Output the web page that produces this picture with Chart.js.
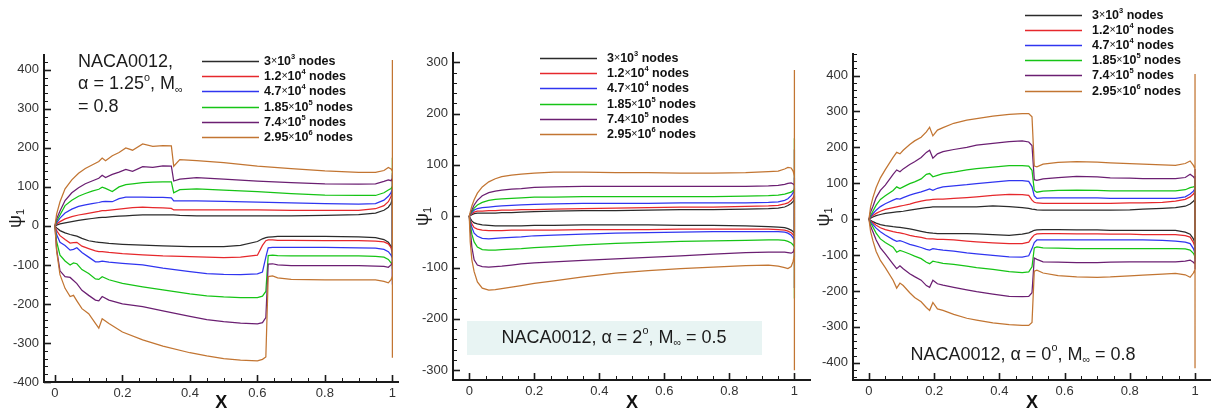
<!DOCTYPE html>
<html>
<head>
<meta charset="utf-8">
<title>Adjoint ψ1 along NACA0012 surface</title>
<script src="https://cdn.jsdelivr.net/npm/chart.js@4.4.1/dist/chart.umd.min.js"></script>
<style>
  html, body { margin: 0; padding: 0; background: #fff; }
  #wrap { position: relative; width: 1211px; height: 414px; overflow: hidden; }
  canvas { position: absolute; top: 0; }
</style>
</head>
<body>
<div id="wrap">
  <canvas id="c1" width="400" height="414" style="left:0px;width:400px;height:414px"></canvas>
  <canvas id="c2" width="411" height="414" style="left:400px;width:411px;height:414px"></canvas>
  <canvas id="c3" width="401" height="414" style="left:810px;width:401px;height:414px"></canvas>
</div>
<script>
// ---------- mesh sizes (legend) ----------
const NODE_MANTISSA = ['3', '1.2', '4.7', '1.85', '7.4', '2.95'];
const NODE_EXPONENT = ['3', '4', '4', '5', '5', '6'];

// ---------- axis tick values ----------
const X_TICKS = [0, 0.2, 0.4, 0.6, 0.8, 1];
const Y_TICKS_400 = [-400, -300, -200, -100, 0, 100, 200, 300, 400];
const Y_TICKS_300 = [-300, -200, -100, 0, 100, 200, 300];

// ---------- case 1: alpha = 1.25 deg, M = 0.8 ----------
const p1UpperX = [0, 0.005, 0.015, 0.03, 0.05, 0.07, 0.09, 0.11, 0.13, 0.14, 0.15, 0.17, 0.19, 0.21, 0.23, 0.26, 0.29, 0.32, 0.345, 0.352, 0.37, 0.42, 0.5, 0.6, 0.7, 0.8, 0.9, 0.95, 0.975, 0.988, 0.996, 1];
const p1UpperPsi = [
  [0, 2, 5, 8, 11, 14, 17, 19, 21, 22, 22, 24, 25, 26, 27, 28, 28, 28, 28, 28, 27, 26, 26, 26, 26, 27, 29, 33, 40, 48, 58, 70],
  [0, 5, 11, 18, 24, 28, 31, 34, 37, 39, 39, 41, 43, 45, 47, 48, 47, 46, 45, 41, 41, 41, 41, 41, 40, 40, 40, 44, 52, 62, 75, 90],
  [0, 8, 20, 33, 43, 50, 54, 57, 60, 62, 63, 62, 70, 74, 74, 74, 73, 73, 72, 64, 64, 64, 63, 61, 59, 57, 56, 57, 66, 76, 85, 95],
  [0, 12, 28, 52, 66, 76, 83, 89, 94, 99, 96, 88, 100, 106, 108, 111, 112, 113, 113, 85, 93, 95, 92, 88, 83, 79, 78, 78, 85, 92, 96, 102],
  [0, 18, 38, 65, 85, 98, 108, 115, 122, 130, 124, 132, 138, 145, 140, 152, 150, 154, 153, 115, 120, 124, 120, 115, 111, 108, 107, 108, 114, 118, 116, 122],
  [0, 30, 62, 95, 118, 135, 147, 156, 165, 174, 167, 180, 188, 200, 194, 210, 204, 206, 205, 153, 170, 167, 162, 153, 147, 141, 137, 137, 142, 150, 146, 140]
];
const p1LowerX = [0, 0.005, 0.015, 0.03, 0.045, 0.055, 0.065, 0.08, 0.1, 0.12, 0.13, 0.14, 0.16, 0.2, 0.26, 0.32, 0.4, 0.45, 0.5, 0.55, 0.6, 0.615, 0.625, 0.632, 0.645, 0.66, 0.7, 0.8, 0.9, 0.95, 0.975, 0.988, 0.996, 1];
const p1LowerPsi = [
  [0, -5, -12, -18, -22, -24, -26, -32, -38, -41, -42, -43, -45, -47, -49, -51, -53, -53, -53, -50, -40, -33, -30, -29, -28, -27, -27, -27, -28, -30, -35, -42, -52, -65],
  [0, -12, -25, -35, -44, -43, -42, -52, -58, -64, -66, -66, -68, -71, -74, -77, -79, -80, -81, -80, -75, -50, -38, -36, -36, -37, -37, -38, -38, -39, -41, -46, -56, -70],
  [0, -22, -42, -50, -62, -60, -56, -68, -80, -92, -92, -90, -93, -96, -100, -108, -117, -122, -124, -125, -123, -118, -80, -56, -55, -55, -55, -55, -56, -57, -60, -66, -75, -82],
  [0, -40, -75, -90, -100, -95, -97, -112, -122, -136, -137, -130, -138, -147, -156, -164, -174, -179, -182, -184, -184, -180, -168, -76, -75, -76, -77, -77, -77, -78, -80, -86, -95, -100],
  [0, -60, -115, -130, -132, -140, -148, -165, -178, -190, -192, -181, -190, -200, -207, -218, -232, -240, -245, -249, -251, -248, -235, -98, -97, -100, -102, -102, -102, -103, -104, -106, -100, -92],
  [0, -65, -125, -160, -181, -178, -192, -212, -225, -250, -262, -238, -250, -272, -292, -308, -325, -333, -340, -344, -346, -342, -336, -130, -128, -133, -137, -138, -138, -138, -142, -146, -138, -128]
];
// trailing-edge excursion [top, bottom] at x = 1
const p1TrailingEdge = [[60, -80], [95, -75], [130, -150], [175, -110], [135, -130], [425, -338]];

// ---------- case 2: alpha = 2 deg, M = 0.5 ----------
const p2X = [0, 0.003, 0.008, 0.015, 0.025, 0.04, 0.06, 0.08, 0.1, 0.13, 0.16, 0.2, 0.26, 0.35, 0.45, 0.55, 0.65, 0.75, 0.85, 0.92, 0.95, 0.97, 0.98, 0.99, 0.996, 1];
const p2UpperPsi = [
  [0, 1, 3, 5, 6, 6, 6, 6, 7, 7, 8, 9, 10, 11, 11, 12, 13, 13, 14, 15, 16, 18, 21, 25, 29, 33],
  [0, 2, 5, 8, 10, 10, 11, 11, 12, 12, 13, 13, 14, 15, 16, 17, 18, 18, 19, 20, 21, 24, 26, 31, 36, 42],
  [0, 3, 7, 12, 15, 17, 18, 19, 20, 21, 22, 23, 24, 25, 25, 25, 26, 26, 26, 27, 28, 31, 34, 40, 46, 52],
  [0, 4, 9, 16, 22, 27, 31, 33, 34, 35, 36, 37, 37, 38, 38, 38, 38, 38, 39, 40, 41, 43, 45, 47, 50, 52],
  [0, 5, 12, 22, 31, 40, 46, 49, 51, 53, 54, 56, 57, 58, 58, 58, 58, 58, 58, 59, 60, 62, 64, 65, 63, 60],
  [0, 8, 20, 32, 45, 57, 67, 73, 77, 80, 82, 84, 86, 86, 85, 85, 84, 84, 85, 87, 88, 92, 95, 94, 88, 78]
];
const p2LowerPsi = [
  [0, -4, -9, -13, -15, -17, -18, -19, -19, -19, -19, -18, -18, -17, -17, -17, -18, -18, -19, -20, -21, -22, -24, -27, -30, -34],
  [0, -7, -15, -22, -25, -27, -28, -28, -28, -27, -27, -27, -27, -26, -26, -26, -25, -25, -25, -25, -26, -27, -29, -32, -36, -40],
  [0, -10, -22, -33, -39, -43, -44, -43, -42, -41, -40, -38, -37, -35, -33, -32, -31, -30, -30, -30, -30, -31, -33, -37, -42, -47],
  [0, -15, -35, -50, -60, -65, -66, -66, -65, -64, -63, -61, -59, -56, -53, -51, -49, -48, -47, -46, -46, -47, -49, -52, -56, -60],
  [0, -25, -60, -85, -95, -98, -99, -98, -97, -95, -93, -91, -89, -86, -83, -80, -77, -74, -71, -70, -70, -70, -71, -72, -70, -62],
  [0, -50, -85, -108, -128, -140, -144, -143, -141, -138, -135, -131, -126, -118, -111, -106, -102, -99, -96, -95, -97, -100, -102, -98, -88, -75]
];
const p2TrailingEdge = [[40, -40], [55, -55], [75, -80], [152, -160], [130, -140], [285, -300]];

// ---------- case 3: alpha = 0 deg, M = 0.8 ----------
const p3X = [0, 0.005, 0.012, 0.022, 0.035, 0.05, 0.074, 0.085, 0.095, 0.105, 0.125, 0.14, 0.16, 0.176, 0.186, 0.196, 0.21, 0.227, 0.26, 0.3, 0.33, 0.38, 0.43, 0.47, 0.49, 0.5, 0.507, 0.515, 0.534, 0.58, 0.637, 0.7, 0.74, 0.8, 0.84, 0.9, 0.94, 0.97, 0.985, 0.995, 1];
const p3UpperPsi = [
  [0, 3, 6, 10, 13, 16, 19, 20, 21, 22, 25, 27, 30, 32, 33, 34, 34, 34, 34, 34, 34, 37, 35, 32, 30, 28, 27, 26, 25, 25, 25, 25, 25, 26, 28, 30, 32, 36, 42, 50, 55],
  [0, 5, 10, 16, 22, 27, 32, 34, 36, 38, 42, 46, 50, 53, 54, 55, 56, 56, 58, 60, 62, 66, 69, 68, 66, 53, 47, 45, 44, 44, 44, 44, 44, 45, 45, 47, 50, 55, 62, 70, 78],
  [0, 7, 15, 25, 35, 43, 53, 57, 56, 60, 67, 71, 76, 81, 84, 80, 86, 90, 93, 96, 99, 103, 107, 107, 105, 90, 65, 58, 59, 59, 59, 59, 58, 58, 58, 58, 58, 62, 70, 78, 85],
  [0, 10, 22, 39, 55, 65, 80, 90, 85, 90, 99, 104, 112, 125, 127, 118, 122, 127, 131, 137, 141, 145, 149, 149, 148, 136, 80, 75, 78, 80, 81, 80, 79, 79, 79, 79, 79, 82, 88, 90, 92],
  [0, 20, 35, 60, 80, 95, 125, 137, 132, 140, 152, 160, 172, 186, 192, 170, 182, 188, 194, 200, 206, 211, 216, 218, 215, 205, 110, 108, 112, 116, 119, 118, 115, 114, 113, 113, 113, 116, 125, 118, 112],
  [0, 35, 60, 88, 115, 138, 172, 186, 182, 192, 208, 218, 228, 243, 256, 232, 248, 255, 267, 276, 280, 287, 292, 294, 294, 285, 148, 146, 153, 158, 160, 159, 157, 155, 153, 151, 150, 155, 162, 150, 140]
];
const p3LowerPsi = [
  [0, -3, -7, -11, -15, -18, -21, -22, -23, -24, -27, -30, -34, -37, -38, -39, -40, -40, -40, -40, -41, -43, -45, -42, -38, -34, -31, -30, -29, -29, -30, -30, -31, -31, -31, -31, -31, -36, -42, -55, -68],
  [0, -5, -10, -17, -24, -29, -35, -37, -38, -40, -45, -48, -51, -54, -55, -55, -56, -56, -58, -61, -63, -66, -68, -68, -64, -51, -44, -41, -40, -40, -41, -41, -42, -42, -43, -43, -43, -46, -50, -65, -78],
  [0, -7, -15, -25, -35, -44, -57, -62, -60, -63, -70, -74, -79, -84, -86, -82, -84, -86, -89, -94, -97, -101, -105, -106, -102, -82, -65, -58, -58, -58, -58, -58, -58, -58, -58, -59, -61, -64, -68, -82, -95],
  [0, -10, -22, -39, -55, -65, -78, -92, -87, -90, -97, -103, -110, -120, -124, -117, -120, -123, -126, -131, -135, -140, -146, -149, -147, -133, -80, -77, -80, -81, -82, -82, -82, -82, -82, -82, -82, -83, -86, -95, -105],
  [0, -20, -35, -58, -80, -97, -125, -138, -130, -138, -152, -160, -170, -185, -190, -170, -180, -184, -190, -197, -202, -209, -215, -216, -215, -205, -108, -112, -119, -120, -121, -121, -120, -119, -119, -119, -119, -117, -114, -120, -125],
  [0, -35, -60, -90, -115, -135, -170, -192, -178, -185, -205, -218, -230, -246, -254, -232, -250, -254, -265, -276, -281, -289, -294, -296, -296, -288, -145, -142, -150, -157, -161, -162, -161, -158, -156, -153, -151, -155, -162, -150, -140]
];
const p3TrailingEdge = [[60, -70], [90, -95], [120, -120], [110, -110], [140, -140], [404, -415]];

// ---------- styling ----------
const FONT = '"Liberation Sans", Arial, Helvetica, sans-serif';
const LINE_COLORS = ['#2b2b2b', '#e6282c', '#3035f0', '#16c416', '#6b1f72', '#c27532'];
const AXIS_COLOR = '#1a1a1a';
const LABEL_COLOR = '#333333';
const TEXT_COLOR = '#1c1c1c';

Chart.defaults.font.family = FONT;

// one surface walk: lower side TE->LE, upper side LE->TE, then the TE excursion
function surfacePath(upX, up, lowX, low, te) {
  const pts = [];
  for (let i = lowX.length - 1; i >= 0; i--) pts.push({ x: lowX[i], y: low[i] });
  for (let i = 1; i < upX.length; i++) pts.push({ x: upX[i], y: up[i] });
  pts.push({ x: 1, y: te[0] }, { x: 1, y: te[1] });
  return pts;
}

// text made of runs: [string, kind] where kind is '', 'sup', 'sub' or 'x' (small times sign)
function runFont(kind, size, weight) {
  if (kind === 'sup' || kind === 'sub') return `${weight} ${size * 0.6}px ${FONT}`;
  if (kind === 'x') return `normal ${size * 0.85}px ${FONT}`;
  return `${weight} ${size}px ${FONT}`;
}
function drawRuns(ctx, runs, x, y, size, weight, align) {
  const widths = runs.map(r => { ctx.font = runFont(r[1], size, weight); return ctx.measureText(r[0]).width; });
  const total = widths.reduce((a, b) => a + b, 0);
  let cx = align === 'center' ? x - total / 2 : x;
  ctx.textAlign = 'left';
  ctx.textBaseline = 'middle';
  runs.forEach((r, i) => {
    ctx.font = runFont(r[1], size, weight);
    const dy = r[1] === 'sup' ? -size * 0.36 : r[1] === 'sub' ? size * 0.28 : 0;
    ctx.fillText(r[0], cx, y + dy);
    cx += widths[i];
  });
}
function legendRuns(i) {
  return [[NODE_MANTISSA[i], ''], ['×', 'x'], ['10', ''], [NODE_EXPONENT[i], 'sup'], [' nodes', '']];
}

// inward tick marks, axis title, legend and case notes
const decorPlugin = {
  id: 'panelDecor',
  afterDraw(chart, args, opts) {
    const ctx = chart.ctx;
    const a = chart.chartArea;
    const xs = chart.scales.x, ys = chart.scales.y;
    ctx.save();
    ctx.strokeStyle = AXIS_COLOR;
    // y ticks: major every 100, minor every 20
    for (let k = Math.ceil(ys.min / 20); k * 20 <= ys.max; k++) {
      const py = Math.round(ys.getPixelForValue(k * 20)) + 0.5;
      const major = k % 5 === 0;
      ctx.lineWidth = major ? 1.6 : 1;
      ctx.beginPath();
      ctx.moveTo(a.left, py);
      ctx.lineTo(a.left + (major ? 7 : 4), py);
      ctx.stroke();
    }
    // x ticks: major every 0.2, minor every 0.05
    for (let k = Math.ceil(xs.min / 0.05 - 1e-6); k * 0.05 <= xs.max + 1e-9; k++) {
      const px = Math.round(xs.getPixelForValue(k * 0.05)) + 0.5;
      const major = k % 4 === 0;
      ctx.lineWidth = major ? 1.6 : 1;
      ctx.beginPath();
      ctx.moveTo(px, a.bottom);
      ctx.lineTo(px, a.bottom - (major ? 7 : 4));
      ctx.stroke();
    }
    // y axis title
    ctx.fillStyle = TEXT_COLOR;
    ctx.save();
    ctx.translate(opts.yTitleX, (a.top + a.bottom) / 2);
    ctx.rotate(-Math.PI / 2);
    drawRuns(ctx, [['ψ', ''], ['1', 'sub']], 0, 0, 18, 'normal', 'center');
    ctx.restore();
    // legend
    const lg = opts.legend;
    chart.data.datasets.forEach((ds, i) => {
      const yy = Math.round(lg.y + i * lg.step) + 0.5;
      ctx.strokeStyle = ds.borderColor;
      ctx.lineWidth = 1.3;
      ctx.beginPath();
      ctx.moveTo(lg.x, yy);
      ctx.lineTo(lg.x + lg.len, yy);
      ctx.stroke();
      ctx.fillStyle = '#111';
      drawRuns(ctx, legendRuns(i), lg.textX, yy, 12.5, 'bold', 'left');
    });
    // case notes
    opts.notes.forEach(n => {
      if (n.box) {
        ctx.fillStyle = n.box.color;
        ctx.fillRect(n.box.x, n.box.y, n.box.w, n.box.h);
      }
      ctx.fillStyle = TEXT_COLOR;
      n.lines.forEach((runs, j) => drawRuns(ctx, runs, n.x, n.y + j * n.step, 18, 'normal', n.align));
    });
    ctx.restore();
  }
};

function makePanel(id, cfg) {
  const datasets = cfg.upper.map((up, i) => ({
    label: `${NODE_MANTISSA[i]}×10^${NODE_EXPONENT[i]} nodes`,
    data: surfacePath(cfg.upperX, up, cfg.lowerX, cfg.lower[i], cfg.te[i]),
    showLine: true,
    borderColor: LINE_COLORS[i],
    borderWidth: 1.25,
    pointRadius: 0,
    fill: false,
    tension: 0,
    order: cfg.upper.length - 1 - i
  }));
  const tickFont = { family: FONT, size: 13 };
  return new Chart(document.getElementById(id), {
    type: 'scatter',
    data: { datasets },
    plugins: [decorPlugin],
    options: {
      responsive: false,
      animation: false,
      events: [],
      layout: { padding: { top: cfg.area.top, left: 0, right: 0, bottom: 0 } },
      plugins: {
        legend: { display: false },
        tooltip: { enabled: false },
        panelDecor: { yTitleX: cfg.yTitleX, legend: cfg.legend, notes: cfg.notes }
      },
      scales: {
        x: {
          type: 'linear',
          min: cfg.xMin, max: cfg.xMax,
          grid: { display: false, drawTicks: false },
          border: { display: true, color: AXIS_COLOR, width: 2 },
          afterBuildTicks: s => { s.ticks = X_TICKS.map(v => ({ value: v })); },
          ticks: {
            font: tickFont, color: LABEL_COLOR, padding: 4, maxRotation: 0, autoSkip: false,
            callback: v => String(Number(v.toFixed(2)))
          },
          title: { display: true, text: 'X', color: '#111', font: { family: FONT, size: 18, weight: 'bold' }, padding: { top: 0, bottom: 0 } },
          afterFit: s => { s.height = cfg.canvasH - cfg.area.bottom; }
        },
        y: {
          type: 'linear',
          min: cfg.yMin, max: cfg.yMax,
          grid: { display: false, drawTicks: false },
          border: { display: true, color: AXIS_COLOR, width: 2 },
          afterBuildTicks: s => { s.ticks = cfg.yTicks.map(v => ({ value: v })); },
          ticks: { font: tickFont, color: LABEL_COLOR, padding: 5, autoSkip: false, callback: v => String(v) },
          afterFit: s => { s.width = cfg.area.left; }
        }
      }
    }
  });
}

makePanel('c1', {
  upperX: p1UpperX, upper: p1UpperPsi, lowerX: p1LowerX, lower: p1LowerPsi, te: p1TrailingEdge,
  xMin: -0.0324, xMax: 1.0177, yMin: -400, yMax: 438, yTicks: Y_TICKS_400,
  area: { left: 44, top: 55, bottom: 382 }, canvasH: 414, yTitleX: 16,
  legend: { x: 202, len: 57, textX: 264, y: 61, step: 15.2 },
  notes: [{
    x: 78, y: 62, step: 22.5, align: 'left',
    lines: [
      [['NACA0012,', '']],
      [['α = 1.25', ''], ['o', 'sup'], [', M', ''], ['∞', 'sub']],
      [['= 0.8', '']]
    ]
  }]
});

makePanel('c2', {
  upperX: p2X, upper: p2UpperPsi, lowerX: p2X, lower: p2LowerPsi, te: p2TrailingEdge,
  xMin: -0.050, xMax: 1.051, yMin: -319, yMax: 318, yTicks: Y_TICKS_300,
  area: { left: 53, top: 53, bottom: 380 }, canvasH: 414, yTitleX: 23,
  legend: { x: 140, len: 57, textX: 207, y: 58, step: 15.2 },
  notes: [{
    x: 214, y: 338, step: 0, align: 'center',
    box: { x: 67, y: 321, w: 295, h: 34, color: '#e8f4f3' },
    lines: [[['NACA0012, α = 2', ''], ['o', 'sup'], [', M', ''], ['∞', 'sub'], [' = 0.5', '']]]
  }]
});

makePanel('c3', {
  upperX: p3X, upper: p3UpperPsi, lowerX: p3X, lower: p3LowerPsi, te: p3TrailingEdge,
  xMin: -0.049, xMax: 1.049, yMin: -448, yMax: 460, yTicks: Y_TICKS_400,
  area: { left: 43, top: 54, bottom: 380 }, canvasH: 414, yTitleX: 14,
  legend: { x: 215, len: 57, textX: 282, y: 14.5, step: 15.2 },
  notes: [{
    x: 213, y: 355, step: 0, align: 'center',
    lines: [[['NACA0012, α = 0', ''], ['o', 'sup'], [', M', ''], ['∞', 'sub'], [' = 0.8', '']]]
  }]
});
</script>
</body>
</html>
